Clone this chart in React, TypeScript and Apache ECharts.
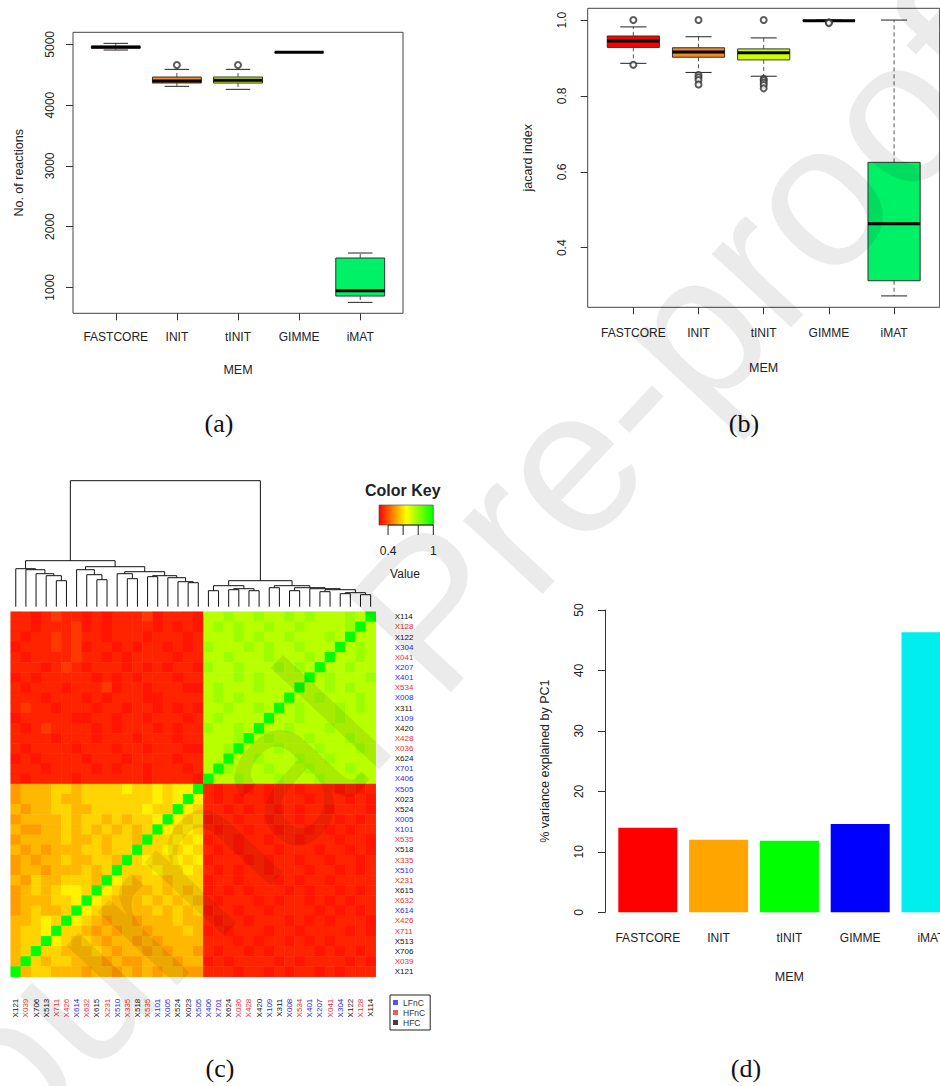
import React, { useEffect, useRef } from 'react';
import * as echarts from 'echarts';

// ---------- shared categories ----------
const METHODS = ['FASTCORE', 'INIT', 'tINIT', 'GIMME', 'iMAT'];
const BOX_COLORS = ['#ff0000', '#f08a24', '#ccff00', '#0066ff', '#00f066'];
const BAR_COLORS = ['#ff0000', '#ffa500', '#00ff00', '#0000ff', '#00eeee'];

// ---------- (a) number of reactions: [min, q1, median, q3, max] ----------
const reactionsBox = [
  [4906, 4935, 4955, 4968, 5016],
  [4309, 4363, 4396, 4462, 4588],
  [4259, 4363, 4407, 4462, 4588],
  [4866, 4867, 4868, 4869, 4870],
  [753, 857, 944, 1483, 1565],
];
const reactionsOutliers = [[], [4659], [4659], [], []];
const reactionsTicks = [1000, 2000, 3000, 4000, 5000];

// ---------- (b) jaccard index ----------
const jaccardBox = [
  [0.886, 0.928, 0.945, 0.958, 0.982],
  [0.862, 0.902, 0.916, 0.927, 0.956],
  [0.852, 0.895, 0.914, 0.924, 0.953],
  [0.997, 0.998, 0.998, 0.999, 1.0],
  [0.273, 0.313, 0.463, 0.625, 1.0],
];
const jaccardOutliers = [
  [1.0, 0.882],
  [1.0, 0.855, 0.849, 0.842, 0.83],
  [1.0, 0.845, 0.841, 0.835, 0.829, 0.82],
  [0.994, 0.992],
  [],
];
const jaccardTicks = [0.4, 0.6, 0.8, 1.0];

// ---------- (d) % variance explained by PC1 ----------
const pc1Variance = [14.0, 12.0, 11.85, 14.6, 46.3];

// ---------- (c) heatmap ----------
const rowLabels = ['X114', 'X128', 'X122', 'X304', 'X041', 'X207', 'X401', 'X534', 'X008', 'X311', 'X109', 'X420', 'X428', 'X036', 'X624', 'X701', 'X406', 'X505', 'X023', 'X524', 'X005', 'X101', 'X535', 'X518', 'X335', 'X510', 'X231', 'X615', 'X632', 'X614', 'X426', 'X711', 'X513', 'X706', 'X039', 'X121'];
const rowClasses = ['HFC', 'HFnC', 'HFC', 'LFnC', 'HFnC', 'LFnC', 'LFnC', 'HFnC', 'LFnC', 'HFC', 'LFnC', 'HFC', 'HFnC', 'HFnC', 'HFC', 'LFnC', 'LFnC', 'LFnC', 'HFC', 'HFC', 'LFnC', 'LFnC', 'HFnC', 'HFC', 'HFnC', 'LFnC', 'HFnC', 'HFC', 'HFnC', 'LFnC', 'HFnC', 'HFnC', 'HFC', 'HFC', 'HFnC', 'HFC'];
const colLabels = rowLabels.slice().reverse();
const classNames = ['LFnC', 'HFnC', 'HFC'];
const classColors = ['#2a2ad8', '#e03333', '#111111'];

// cell codes (row = top->bottom, col = left->right)
const LEVELS: Record<string, number> = { '0': 0.29, '1': 0.31, '2': 0.33, '3': 0.36, '4': 0.5, '5': 0.54, '6': 0.58, '7': 0.62, '8': 0.74, '9': 0.78, X: 1.0 };
const heatRows = [
  '221232 212122 231222 188988 988989 88898X',
  '221222 312122 221212 189898 898898 8889X8',
  '212232 322122 212221 288898 988988 898X88',
  '122232 312212 122121 298889 898898 88X898',
  '212222 322121 222212 288988 898889 8X8898',
  '222123 212221 212122 198898 889898 X88988',
  '121222 221212 122212 288898 98888X 898889',
  '212221 222312 212221 189888 9888X8 898988',
  '222122 212122 211222 289898 888X88 988898',
  '232212 221221 221212 188988 98X898 889898',
  '122222 112212 212221 289888 8X8898 889888',
  '212322 221212 221212 298898 X88988 898888',
  '222212 221222 122212 28889X 898889 888988',
  '212222 122212 212221 1889X8 889888 988898',
  '121222 212221 222212 288X88 988898 898888',
  '222122 221212 212221 28X988 898889 888988',
  '212222 122222 212222 1X8898 889888 988898',
  '455566 566667 667677 X21221 212212 221212',
  '455565 566666 66767X 721212 212221 222121',
  '545566 556666 6766X7 622121 221212 212221',
  '455556 566565 667X76 712212 212212 221212',
  '544556 565656 56X767 621221 221221 212122',
  '455556 556566 5X6676 712212 212212 221221',
  '545455 566566 X66767 621212 221222 122121',
  '454556 55665X 676676 712221 212212 212212',
  '455455 5656X6 667667 621212 212221 221212',
  '546556 665X76 566566 612212 221212 212222',
  '456567 76X765 556565 612121 222121 221212',
  '455566 7X7655 565656 521222 121221 212122',
  '456556 X76555 556565 612212 212222 121212',
  '55676X 765455 455565 521221 222121 212221',
  '5667X6 654545 545556 512122 212212 222121',
  '566X76 565455 454555 522212 122121 212222',
  '56X665 556545 545455 421221 212222 121212',
  '5X6566 555454 455545 512122 221212 222121',
  'X56655 545545 454554 422212 212122 121222',
];

// column dendrogram, hclust style: negative = leaf (column index + 1), positive = earlier merge
const dendroMerges: [number, number, number][] = [
  [-5, -6, 26], [-4, 1, 31], [-3, 2, 33], [-2, 3, 37], [-1, 4, 38],
  [-9, -10, 27], [-8, 6, 32], [-7, 7, 37], [-12, -13, 28], [-11, 9, 33],
  [-14, -15, 30], [-18, -19, 24], [-17, 12, 25], [-16, 13, 29], [11, 14, 31],
  [10, 15, 35], [8, 16, 40], [5, 17, 46],
  [-20, -21, 16], [-22, -23, 17], [-24, -25, 16], [20, 21, 18], [19, 22, 21],
  [-26, -27, 19], [-31, -32, 15], [-33, -34, 13], [-35, -36, 12], [26, 27, 14],
  [25, 28, 17], [-30, 29, 18], [-28, -29, 16], [31, 30, 19], [24, 32, 21],
  [23, 33, 26], [18, 34, 126],
];

// color key
const keyRange = [0.28, 1.0];
const keyColors = ['#ff0000', '#ffff00', '#00ff00'];
const keyTicks = [0.4, 0.6, 0.8, 1.0];
const keyTickLabels = ['0.4', '', '', '1'];

const FONT = 'Liberation Sans';
const TXT = '#222';

function buildHeatData() {
  const out: number[][] = [];
  heatRows.forEach((row, r) => {
    const codes = row.replace(/\s/g, '');
    for (let c = 0; c < codes.length; c++) out.push([c, r, LEVELS[codes[c]]]);
  });
  return out;
}

function buildDendro() {
  const nodes: { x: number; h: number }[] = [];
  const segs: number[][] = [];
  const child = (i: number) => (i < 0 ? { x: -i - 1 + 0.5, h: 0 } : nodes[i - 1]);
  dendroMerges.forEach(([a, b, h]) => {
    const ca = child(a);
    const cb = child(b);
    nodes.push({ x: (ca.x + cb.x) / 2, h });
    segs.push([ca.x, ca.h, cb.x, cb.h, h]);
  });
  return segs;
}

const labelClass: Record<string, number> = {};
rowLabels.forEach((l, i) => (labelClass[l] = classNames.indexOf(rowClasses[i])));
const labelColor = (v: any) => classColors[labelClass[v]] ?? '#111';

function boxRenderer(colors: string[]) {
  return (params: any, api: any) => {
    const x = api.value(0);
    const pMin = api.coord([x, api.value(1)]);
    const pQ1 = api.coord([x, api.value(2)]);
    const pMed = api.coord([x, api.value(3)]);
    const pQ3 = api.coord([x, api.value(4)]);
    const pMax = api.coord([x, api.value(5)]);
    const bw = api.size([0.8, 0])[0];
    const cx = pMed[0];
    const half = bw / 2;
    const st = bw / 4;
    return {
      type: 'group',
      children: [
        { type: 'line', shape: { x1: cx, y1: pQ3[1], x2: cx, y2: pMax[1] }, style: { stroke: '#555', lineWidth: 1, lineDash: [4, 3] } },
        { type: 'line', shape: { x1: cx, y1: pQ1[1], x2: cx, y2: pMin[1] }, style: { stroke: '#555', lineWidth: 1, lineDash: [4, 3] } },
        { type: 'line', shape: { x1: cx - st, y1: pMax[1], x2: cx + st, y2: pMax[1] }, style: { stroke: '#222', lineWidth: 1 } },
        { type: 'line', shape: { x1: cx - st, y1: pMin[1], x2: cx + st, y2: pMin[1] }, style: { stroke: '#222', lineWidth: 1 } },
        { type: 'rect', shape: { x: cx - half, y: pQ3[1], width: bw, height: pQ1[1] - pQ3[1] }, style: { fill: colors[params.dataIndex], stroke: '#333', lineWidth: 1 } },
        { type: 'line', shape: { x1: cx - half, y1: pMed[1], x2: cx + half, y2: pMed[1] }, style: { stroke: '#000', lineWidth: 3 } },
      ],
    };
  };
}

function boxAxes(gridIndex: number, yMin: number, yMax: number, ticks: number[], yName: string, opts: any) {
  const x = {
    gridIndex, type: 'value', min: 0.3, max: 5.7,
    axisLine: { show: false }, splitLine: { show: false },
    axisTick: { show: true, length: 7, customValues: [1, 2, 3, 4, 5], lineStyle: { color: '#333' } },
    axisLabel: { show: true, customValues: [1, 2, 3, 4, 5], formatter: (v: number) => METHODS[Math.round(v) - 1], margin: opts.xMargin, fontSize: 12, color: TXT, fontFamily: FONT },
    name: 'MEM', nameLocation: 'middle', nameGap: opts.xNameGap, nameTextStyle: { fontSize: 12.5, color: TXT, fontFamily: FONT },
  };
  const y = {
    gridIndex, type: 'value', min: yMin, max: yMax,
    axisLine: { show: false }, splitLine: { show: false },
    axisTick: { show: true, length: 7, customValues: ticks, lineStyle: { color: '#333' } },
    axisLabel: { show: true, customValues: ticks, rotate: 90, margin: opts.yMargin, fontSize: 12, color: TXT, fontFamily: FONT, formatter: opts.yFmt },
    name: yName, nameLocation: 'middle', nameGap: opts.yNameGap, nameTextStyle: { fontSize: 12.5, color: TXT, fontFamily: FONT },
  };
  return { x, y };
}

function buildOption() {
  const a = boxAxes(0, 573, 5198, reactionsTicks, 'No. of reactions', { xMargin: 18, xNameGap: 50, yMargin: 17, yNameGap: 48, yFmt: (v: number) => String(v) });
  const b = boxAxes(1, 0.243, 1.031, jaccardTicks, 'jacard index', { xMargin: 20, xNameGap: 54, yMargin: 20, yNameGap: 53, yFmt: (v: number) => v.toFixed(1) });

  const kx0 = 379, kx1 = 433.3, ky0 = 505, ky1 = 525;
  const kpos = (v: number) => kx0 + ((v - keyRange[0]) / (keyRange[1] - keyRange[0])) * (kx1 - kx0);

  const graphic: any[] = [
    { type: 'text', left: 365, top: 482, style: { text: 'Color Key', font: `bold 16px ${FONT}`, fill: '#222' } },
    {
      type: 'rect', shape: { x: kx0, y: ky0, width: kx1 - kx0, height: ky1 - ky0 },
      style: { fill: new echarts.graphic.LinearGradient(0, 0, 1, 0, keyColors.map((c, i) => ({ offset: i / (keyColors.length - 1), color: c }))), stroke: '#444', lineWidth: 0.6 },
    },
    { type: 'line', shape: { x1: kpos(keyTicks[0]), y1: ky1, x2: kpos(keyTicks[keyTicks.length - 1]), y2: ky1 }, style: { stroke: '#222', lineWidth: 1 } },
    ...keyTicks.map((t) => ({ type: 'line', shape: { x1: kpos(t), y1: ky1, x2: kpos(t), y2: ky1 + 10 }, style: { stroke: '#222', lineWidth: 1 } })),
    ...keyTicks.map((t, i) => ({ type: 'text', x: kpos(t), y: 551, style: { text: keyTickLabels[i], font: `12px ${FONT}`, fill: TXT, textAlign: 'center', textVerticalAlign: 'middle' } })),
    { type: 'text', x: 405, y: 574, style: { text: 'Value', font: `12px ${FONT}`, fill: TXT, textAlign: 'center', textVerticalAlign: 'middle' } },
    ...[['(a)', 219, 423], ['(b)', 744, 423], ['(c)', 220, 1068], ['(d)', 746, 1068]].map(([t, x, y]) => ({
      type: 'text', x, y, style: { text: t, font: `26px "Liberation Serif"`, fill: '#111', textAlign: 'center', textVerticalAlign: 'middle' },
    })),
    {
      type: 'text', x: 430, y: 610, rotation: 0.82, z: 100, silent: true,
      style: { text: 'Journal Pre-proof', font: `205px ${FONT}`, fill: 'rgba(0,0,0,0.08)', textAlign: 'center', textVerticalAlign: 'middle' },
    },
  ];

  return {
    animation: false,
    textStyle: { fontFamily: FONT },
    grid: [
      { left: 73, top: 32.3, width: 330, height: 281, show: true, borderColor: '#444', borderWidth: 1, outerBoundsMode: 'none' },
      { left: 587.7, top: 8.3, width: 352, height: 299, show: true, borderColor: '#444', borderWidth: 1, outerBoundsMode: 'none' },
      { left: 10.7, top: 611.7, width: 365, height: 365, outerBoundsMode: 'none' },
      { left: 10.7, top: 480.7, width: 365, height: 126, outerBoundsMode: 'none' },
      { left: 612.4, top: 610, width: 354, height: 302.3, outerBoundsMode: 'none' },
    ],
    xAxis: [
      a.x,
      b.x,
      {
        gridIndex: 2, type: 'category', data: colLabels, position: 'bottom',
        axisLine: { show: false }, axisTick: { show: false },
        axisLabel: { interval: 0, rotate: 90, fontSize: 8, margin: 22, color: labelColor, fontFamily: FONT },
      },
      { gridIndex: 3, type: 'value', min: 0, max: 36, show: false },
      {
        gridIndex: 4, type: 'category', data: METHODS,
        axisLine: { show: false }, axisTick: { show: false },
        axisLabel: { margin: 20, fontSize: 12, color: TXT, fontFamily: FONT, interval: 0 },
        name: 'MEM', nameLocation: 'middle', nameGap: 58, nameTextStyle: { fontSize: 12.5, color: TXT, fontFamily: FONT },
      },
    ],
    yAxis: [
      a.y,
      b.y,
      {
        gridIndex: 2, type: 'category', data: rowLabels, inverse: true, position: 'right',
        axisLine: { show: false }, axisTick: { show: false },
        axisLabel: { interval: 0, fontSize: 8, margin: 19, color: labelColor, fontFamily: FONT },
      },
      { gridIndex: 3, type: 'value', min: 0, max: 126, show: false },
      {
        gridIndex: 4, type: 'value', min: 0, max: 50, interval: 10, offset: 7.4,
        axisLine: { show: true, lineStyle: { color: '#333' } },
        axisTick: { show: true, length: 7, lineStyle: { color: '#333' } },
        splitLine: { show: false },
        axisLabel: { rotate: 90, margin: 20, fontSize: 12, color: TXT, fontFamily: FONT },
        name: '% variance explained by PC1', nameLocation: 'middle', nameGap: 53.5, nameTextStyle: { fontSize: 12.5, color: TXT, fontFamily: FONT },
      },
    ],
    visualMap: {
      show: false, type: 'continuous', min: keyRange[0], max: keyRange[1], seriesIndex: 4, dimension: 2,
      inRange: { color: keyColors },
    },
    legend: {
      data: classNames, orient: 'vertical', left: 390, top: 995, itemWidth: 5, itemHeight: 5, itemGap: 1,
      icon: 'rect', selectedMode: false, borderColor: '#222', borderWidth: 1, padding: [3, 5, 3, 3],
      textStyle: { fontSize: 8.5, color: '#333', fontFamily: FONT },
    },
    series: [
      {
        type: 'custom', xAxisIndex: 0, yAxisIndex: 0, renderItem: boxRenderer(BOX_COLORS),
        encode: { x: 0, y: [1, 2, 3, 4, 5] },
        data: reactionsBox.map((v, i) => [i + 1, ...v]),
      },
      {
        type: 'scatter', xAxisIndex: 0, yAxisIndex: 0, symbol: 'emptyCircle', symbolSize: 6,
        itemStyle: { color: '#333', borderWidth: 1 },
        data: reactionsOutliers.flatMap((vals, i) => vals.map((v) => [i + 1, v])),
      },
      {
        type: 'custom', xAxisIndex: 1, yAxisIndex: 1, renderItem: boxRenderer(BOX_COLORS),
        encode: { x: 0, y: [1, 2, 3, 4, 5] },
        data: jaccardBox.map((v, i) => [i + 1, ...v]),
      },
      {
        type: 'scatter', xAxisIndex: 1, yAxisIndex: 1, symbol: 'emptyCircle', symbolSize: 6,
        itemStyle: { color: '#333', borderWidth: 1 },
        data: jaccardOutliers.flatMap((vals, i) => vals.map((v) => [i + 1, v])),
      },
      {
        type: 'heatmap', xAxisIndex: 2, yAxisIndex: 2, data: buildHeatData(), progressive: 0,
        itemStyle: { borderWidth: 0 }, emphasis: { disabled: true },
      },
      {
        type: 'custom', xAxisIndex: 3, yAxisIndex: 3, clip: false,
        encode: { x: [0, 2], y: [1, 3, 4] },
        renderItem: (_p: any, api: any) => {
          const p1 = api.coord([api.value(0), api.value(1)]);
          const p2 = api.coord([api.value(0), api.value(4)]);
          const p3 = api.coord([api.value(2), api.value(4)]);
          const p4 = api.coord([api.value(2), api.value(3)]);
          return { type: 'polyline', shape: { points: [p1, p2, p3, p4] }, style: { stroke: '#111', fill: null, lineWidth: 1 } };
        },
        data: buildDendro(),
      },
      {
        type: 'bar', xAxisIndex: 4, yAxisIndex: 4, barWidth: 59,
        data: pc1Variance.map((v, i) => ({ value: v, itemStyle: { color: BAR_COLORS[i] } })),
      },
      ...classNames.map((n, i) => ({
        type: 'scatter', name: n, xAxisIndex: 2, yAxisIndex: 2, data: [], itemStyle: { color: classColors[i] },
      })),
    ],
    graphic,
  };
}

export default function App() {
  const ref = useRef<HTMLDivElement>(null);
  useEffect(() => {
    document.body.style.margin = '0';
    const chart = echarts.init(ref.current as HTMLDivElement, null, { renderer: 'svg' });
    chart.setOption(buildOption() as any);
    return () => chart.dispose();
  }, []);
  return <div ref={ref} style={{ width: 940, height: 1086 }} />;
}
